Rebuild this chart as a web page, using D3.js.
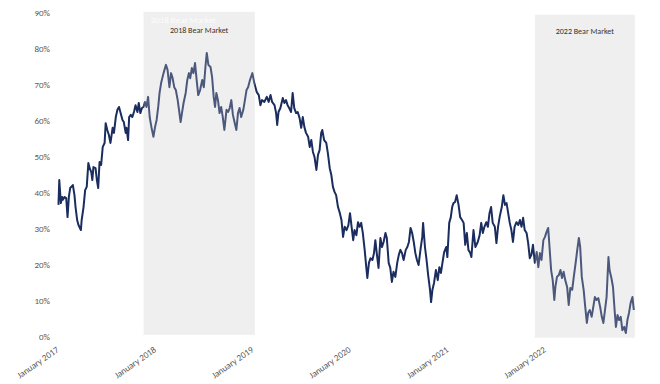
<!DOCTYPE html>
<html>
<head>
<meta charset="utf-8">
<script src="https://cdn.jsdelivr.net/npm/d3@7"></script>
<style>
  html, body { margin: 0; padding: 0; background: #fff; }
  svg { display: block; }
  text { font-family: Carlito, Calibri, Lato, "Liberation Sans", sans-serif; }
</style>
</head>
<body>
<svg id="chart" width="660" height="384"></svg>
<script>
// ---------- DATA ----------
const dates = [
"2017-02-13","2017-02-16","2017-02-22","2017-02-27","2017-03-01","2017-03-08","2017-03-14","2017-03-19","2017-03-24","2017-03-29",
"2017-04-08","2017-04-14","2017-04-18","2017-04-24","2017-04-29","2017-05-08","2017-05-11","2017-05-18","2017-05-24","2017-05-30",
"2017-06-05","2017-06-10","2017-06-16","2017-06-20","2017-06-24","2017-07-02","2017-07-07","2017-07-12","2017-07-17","2017-07-23",
"2017-07-29","2017-08-05","2017-08-09","2017-08-15","2017-08-21","2017-08-27","2017-09-04","2017-09-09","2017-09-16","2017-09-22",
"2017-09-28","2017-10-04","2017-10-11","2017-10-16","2017-10-23","2017-10-26","2017-11-01","2017-11-05","2017-11-11","2017-11-17",
"2017-11-23","2017-11-29","2017-12-06","2017-12-11","2017-12-17","2017-12-23","2017-12-29","2018-01-03","2018-01-09","2018-01-15",
"2018-01-21","2018-01-28","2018-02-04","2018-02-10","2018-02-16","2018-02-22","2018-02-27","2018-03-05","2018-03-14","2018-03-23",
"2018-03-29","2018-04-05","2018-04-11","2018-04-17","2018-04-23","2018-04-29","2018-05-06","2018-05-12","2018-05-17","2018-05-22",
"2018-05-28","2018-06-05","2018-06-11","2018-06-17","2018-06-22","2018-06-28","2018-07-04","2018-07-10","2018-07-16","2018-07-22",
"2018-07-29","2018-08-06","2018-08-12","2018-08-18","2018-08-23","2018-08-29","2018-09-06","2018-09-12","2018-09-18","2018-09-23",
"2018-09-28","2018-10-04","2018-10-10","2018-10-16","2018-10-22","2018-10-28","2018-11-05","2018-11-11","2018-11-17","2018-11-23",
"2018-11-29","2018-12-06","2018-12-12","2018-12-18","2018-12-24","2018-12-30","2019-01-07","2019-01-13","2019-01-19","2019-01-25",
"2019-02-01","2019-02-10","2019-02-17","2019-02-26","2019-03-06","2019-03-12","2019-03-18","2019-03-27","2019-04-05","2019-04-12",
"2019-04-19","2019-04-25","2019-05-04","2019-05-10","2019-05-14","2019-05-19","2019-05-26","2019-06-04","2019-06-10","2019-06-16",
"2019-06-22","2019-06-28","2019-07-05","2019-07-11","2019-07-17","2019-07-24","2019-07-30","2019-08-06","2019-08-12","2019-08-18",
"2019-08-24","2019-08-30","2019-09-07","2019-09-13","2019-09-19","2019-09-25","2019-10-01","2019-10-08","2019-10-14","2019-10-20",
"2019-10-26","2019-10-30","2019-11-06","2019-11-14","2019-11-20","2019-11-27","2019-12-03","2019-12-09","2019-12-15","2019-12-21",
"2019-12-28","2020-01-04","2020-01-10","2020-01-16","2020-01-22","2020-01-29","2020-02-05","2020-02-11","2020-02-17","2020-02-23",
"2020-02-28","2020-03-06","2020-03-12","2020-03-18","2020-03-24","2020-03-30","2020-04-06","2020-04-12","2020-04-16","2020-04-22",
"2020-04-28","2020-05-05","2020-05-11","2020-05-16","2020-05-22","2020-05-28","2020-06-04","2020-06-10","2020-06-16","2020-06-23",
"2020-06-28","2020-07-05","2020-07-11","2020-07-17","2020-07-23","2020-07-30","2020-08-06","2020-08-12","2020-08-18","2020-08-24",
"2020-08-30","2020-09-07","2020-09-13","2020-09-19","2020-09-25","2020-10-01","2020-10-07","2020-10-13","2020-10-19","2020-10-25",
"2020-11-02","2020-11-08","2020-11-11","2020-11-18","2020-11-24","2020-11-30","2020-12-07","2020-12-11","2020-12-16","2020-12-22",
"2020-12-29","2021-01-05","2021-01-11","2021-01-17","2021-01-23","2021-01-29","2021-02-06","2021-02-10","2021-02-17","2021-02-23",
"2021-02-28","2021-03-05","2021-03-11","2021-03-17","2021-03-24","2021-03-30","2021-04-06","2021-04-12","2021-04-18","2021-04-24",
"2021-04-30","2021-05-07","2021-05-11","2021-05-19","2021-05-26","2021-06-04","2021-06-11","2021-06-17","2021-06-23","2021-06-29",
"2021-07-06","2021-07-12","2021-07-18","2021-07-24","2021-07-30","2021-08-07","2021-08-13","2021-08-19","2021-08-25","2021-09-02",
"2021-09-08","2021-09-14","2021-09-20","2021-09-26","2021-10-02","2021-10-08","2021-10-14","2021-10-20","2021-10-27","2021-11-03",
"2021-11-09","2021-11-15","2021-11-21","2021-11-27","2021-12-04","2021-12-10","2021-12-16","2021-12-22","2021-12-28","2022-01-04",
"2022-01-11","2022-01-17","2022-01-23","2022-01-29","2022-02-05","2022-02-11","2022-02-17","2022-02-23","2022-02-28","2022-03-06",
"2022-03-12","2022-03-18","2022-03-22","2022-03-28","2022-04-04","2022-04-10","2022-04-16","2022-04-22","2022-04-28","2022-05-05",
"2022-05-11","2022-05-17","2022-05-24","2022-05-30","2022-06-06","2022-06-12","2022-06-18","2022-06-23","2022-06-29","2022-07-06",
"2022-07-12","2022-07-18","2022-07-23","2022-07-29","2022-08-05","2022-08-11","2022-08-17","2022-08-23","2022-08-30","2022-09-06",
"2022-09-12","2022-09-18","2022-09-24","2022-09-30","2022-10-07","2022-10-11","2022-10-18","2022-10-24","2022-10-30","2022-11-04",
"2022-11-10","2022-11-16","2022-11-22","2022-11-28","2022-12-05","2022-12-11","2022-12-17","2022-12-23","2022-12-29","2023-01-05",
"2023-01-10"
];
const values = [
36.7,43.6,37.2,38.9,38.1,38.9,38.6,33.3,38.9,41.4,
42.2,39.4,36.1,32.5,31.1,29.7,32.5,36.1,40.8,41.7,
48.3,46.9,45.8,43.6,47.2,46.9,43.6,41.4,48.6,47.8,
52.8,53.9,59.4,57.5,56.1,53.9,58.1,56.7,61.1,63.1,
63.9,62.2,60.3,59.7,56.7,58.1,54.7,61.1,61.7,61.1,
62.5,64.4,62.5,65.0,62.2,63.6,63.9,65.3,63.9,66.7,
61.1,58.1,55.6,58.3,60.3,63.9,67.8,70.6,73.3,75.6,
74.2,69.4,73.3,71.9,69.4,68.6,65.8,62.5,59.7,62.2,
65.0,67.8,71.4,73.3,71.9,74.7,73.3,76.1,71.4,67.2,
68.6,71.4,69.4,75.0,78.9,75.6,75.0,72.2,66.7,63.9,
67.8,65.8,62.2,63.9,61.1,57.5,63.1,62.5,63.6,65.8,
61.7,59.4,57.5,62.2,63.6,61.1,63.1,65.8,68.6,69.4,
71.4,73.3,70.6,68.1,67.2,64.4,65.8,65.3,66.7,65.3,
67.2,65.3,64.4,62.2,58.9,62.5,63.6,66.4,65.0,65.8,
64.4,63.6,62.5,67.8,63.6,62.2,62.5,60.8,58.1,61.1,
58.3,56.7,55.6,52.8,54.7,51.4,50.0,46.4,50.6,51.9,
56.7,57.5,54.7,53.9,51.1,46.9,45.0,41.7,40.3,39.4,
36.1,34.4,32.5,27.8,30.6,29.7,31.1,34.4,30.6,26.9,
29.7,28.3,31.9,30.6,31.7,28.9,24.2,19.4,16.4,20.6,
21.9,21.4,23.3,26.9,22.8,19.2,27.5,25.0,26.4,28.9,
27.5,20.6,19.2,15.3,18.1,16.7,20.6,22.8,24.2,23.3,
21.4,24.2,25.0,26.4,30.3,28.9,26.4,23.3,21.4,20.0,
24.7,27.8,31.7,25.0,21.4,17.2,13.1,9.7,13.1,15.0,
18.6,15.8,19.4,17.8,20.8,23.6,25.0,22.2,31.7,33.3,
36.1,37.2,37.5,39.4,36.7,33.3,32.5,31.7,25.6,28.9,
24.2,23.3,22.2,29.7,25.0,26.4,28.3,31.7,28.9,30.6,
31.9,30.6,34.4,36.1,31.7,30.6,26.1,30.6,33.3,36.1,
39.4,36.7,37.2,34.4,31.7,29.7,26.4,30.6,31.9,31.1,
32.5,30.6,33.1,29.7,28.9,26.1,21.9,22.8,25.6,20.6,
23.6,19.4,23.3,21.4,26.9,27.8,29.2,30.3,25.0,18.6,
15.8,10.3,13.9,16.7,17.2,18.6,16.4,18.1,15.8,13.9,
8.9,13.6,13.1,16.7,20.6,24.2,27.5,25.0,16.7,13.1,
8.3,3.9,6.7,7.5,5.6,8.3,11.1,10.3,10.8,8.3,
5.6,3.9,7.5,11.1,22.2,18.6,16.4,13.9,7.5,2.8,
6.1,4.7,5.6,1.9,2.8,1.1,4.7,6.7,9.4,11.1,
7.5
];
const yTicks = [0, 10, 20, 30, 40, 50, 60, 70, 80, 90];
const xTickYears = ["2017-01-01","2018-01-01","2019-01-01","2020-01-01","2021-01-01","2022-01-01"];
const bearLabels = ["2018 Bear Market", "2022 Bear Market"];
const bearStarts = ["2017-12-29", "2022-01-04"];
const bearEnds   = ["2019-02-19", "2023-01-14"];
const bearTops   = [90.3, 89.5];
const bearBottoms = [0.6, -0.2];

// ---------- CHART ----------
const parse = d3.utcParse("%Y-%m-%d");
const data = dates.map((d, i) => ({ date: parse(d), value: values[i] }));

const svg = d3.select("#chart");
const x = d3.scaleUtc()
  .domain([parse("2017-01-01"), parse("2023-01-01")])
  .range([47, 631.4]);
const y = d3.scaleLinear().domain([0, 90]).range([337, 13]);

// line
const line = d3.line().x(d => x(d.date)).y(d => y(d.value));
svg.append("path")
  .datum(data)
  .attr("d", line)
  .attr("fill", "none")
  .attr("stroke", "#1a2d5e")
  .attr("stroke-width", 2)
  .attr("stroke-linejoin", "round");

// bear market shading (over the line, semi-transparent)
const bears = bearLabels.map((l, i) => ({
  label: l, start: parse(bearStarts[i]), end: parse(bearEnds[i]),
  top: bearTops[i], bottom: bearBottoms[i]
}));
svg.selectAll("rect.bear").data(bears).join("rect")
  .attr("class", "bear")
  .attr("x", d => x(d.start))
  .attr("width", d => x(d.end) - x(d.start))
  .attr("y", d => y(d.top))
  .attr("height", d => y(d.bottom) - y(d.top))
  .attr("fill", "rgb(200,200,200)")
  .attr("fill-opacity", 0.29);

// ghost white label in the 2018 box
svg.append("text")
  .attr("x", x(bears[0].start) + 7)
  .attr("y", 23)
  .attr("fill", "#ffffff")
  .attr("fill-opacity", 0.8)
  .attr("font-size", 9)
  .text(bears[0].label);

svg.selectAll("text.bearlabel").data(bears).join("text")
  .attr("class", "bearlabel")
  .attr("x", d => (x(d.start) + x(d.end)) / 2)
  .attr("y", (d, i) => i === 0 ? 32.5 : 34)
  .attr("text-anchor", "middle")
  .attr("fill", "#333")
  .attr("font-size", 8)
  .text(d => d.label);

// y axis
const yAxis = svg.append("g")
  .attr("transform", "translate(50,0)")
  .call(d3.axisLeft(y).tickValues(yTicks).tickFormat(d => d + "%").tickSize(0).tickPadding(0));
yAxis.select(".domain").remove();
yAxis.selectAll("text")
  .attr("fill", "#595959")
  .attr("font-size", 9)
  .style("font-family", "Carlito, Calibri, Lato, 'Liberation Sans', sans-serif");

// x axis
const xAxis = svg.append("g")
  .attr("transform", "translate(0,340)")
  .call(d3.axisBottom(x).tickValues(xTickYears.map(parse)).tickFormat(d3.utcFormat("January %Y")).tickSize(0));
xAxis.select(".domain").remove();
xAxis.selectAll("text")
  .attr("fill", "#595959")
  .attr("font-size", 9)
  .style("font-family", "Carlito, Calibri, Lato, 'Liberation Sans', sans-serif")
  .attr("text-anchor", "end")
  .attr("dy", 0)
  .attr("y", 0)
  .attr("transform", "translate(12,11) rotate(-35)");
</script>
</body>
</html>
